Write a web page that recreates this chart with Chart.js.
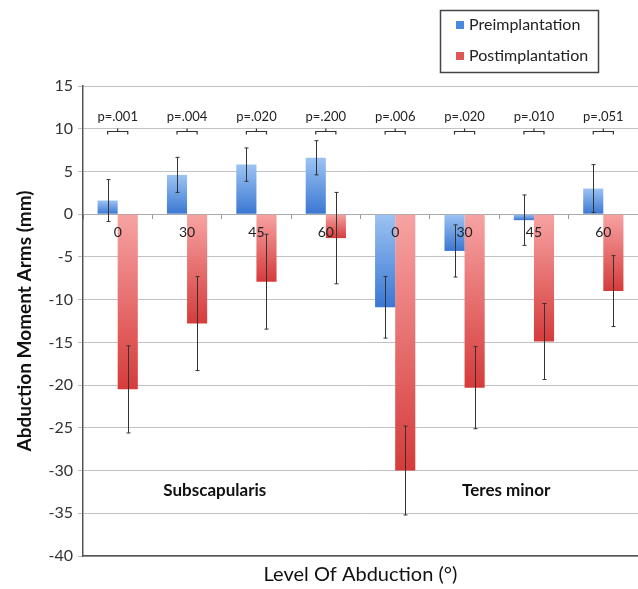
<!DOCTYPE html>
<html>
<head>
<meta charset="utf-8">
<script src="https://cdn.jsdelivr.net/npm/chart.js@4.4.1/dist/chart.umd.min.js"></script>
<style>
  html, body { margin: 0; background: #fff; }
</style>
</head>
<body>
<canvas id="myChart" width="638" height="589"></canvas>
<script>
const categories = ['0', '30', '45', '60', '0', '30', '45', '60'];
const preValues = [1.6, 4.6, 5.8, 6.6, -10.9, -4.3, -0.7, 3.0];
const preErrors = [2.45, 2.05, 1.95, 2.0, 3.6, 3.05, 2.95, 2.8];
const postValues = [-20.5, -12.8, -7.9, -2.8, -30.0, -20.3, -14.9, -9.0];
const postErrors = [5.1, 5.5, 5.55, 5.35, 5.2, 4.8, 4.45, 4.15];
const pValues = ['p=.001', 'p=.004', 'p=.020', 'p=.200', 'p=.006', 'p=.020', 'p=.010', 'p=.051'];
const groupNames = ['Subscapularis', 'Teres minor'];
const groupAt = [1.4, 5.6];
const groupY = -32.3;
const bracketY = 9.7;
const pLabelY = 11.4;
const yMin = -40, yMax = 15, yStep = 5;

const FONT = 'Lato, "Open Sans", sans-serif';

// vertical gradient over each bar, light at the top, dark at the bottom
function barFill(light, dark) {
    return function (c) {
        if (c.type !== 'data') return dark;
        const y = c.chart.scales.y;
        if (!y) return dark;
        const v = c.parsed.y;
        const top = y.getPixelForValue(Math.max(v, 0));
        const bottom = y.getPixelForValue(Math.min(v, 0));
        if (!isFinite(top) || !isFinite(bottom) || bottom - top < 1) return dark;
        const g = c.chart.ctx.createLinearGradient(0, top, 0, bottom);
        g.addColorStop(0, light);
        g.addColorStop(1, dark);
        return g;
    };
}

const extras = {
    id: 'extras',
    afterDatasetsDraw(chart) {
        const ctx = chart.ctx;
        const y = chart.scales.y;
        const x = chart.scales.x;
        const errs = [preErrors, postErrors];
        const vals = [preValues, postValues];
        ctx.save();
        ctx.strokeStyle = '#333';
        ctx.lineWidth = 1;
        // error bars
        for (let d = 0; d < 2; d++) {
            const meta = chart.getDatasetMeta(d);
            meta.data.forEach((bar, j) => {
                const bx = Math.round(bar.x) + 0.5;
                const hi = y.getPixelForValue(vals[d][j] + errs[d][j]);
                const lo = y.getPixelForValue(vals[d][j] - errs[d][j]);
                ctx.beginPath();
                ctx.moveTo(bx, hi); ctx.lineTo(bx, lo);
                ctx.moveTo(bx - 2, hi); ctx.lineTo(bx + 2, hi);
                ctx.moveTo(bx - 2, lo); ctx.lineTo(bx + 2, lo);
                ctx.stroke();
            });
        }
        // p-value brackets
        const m0 = chart.getDatasetMeta(0), m1 = chart.getDatasetMeta(1);
        const yb = Math.round(y.getPixelForValue(bracketY)) + 0.5;
        const yt = y.getPixelForValue(pLabelY);
        ctx.lineWidth = 1.2;
        ctx.font = '13px ' + FONT;
        ctx.fillStyle = '#222';
        ctx.textAlign = 'center';
        ctx.textBaseline = 'middle';
        pValues.forEach((p, j) => {
            const x1 = m0.data[j].x, x2 = m1.data[j].x, xm = (x1 + x2) / 2;
            ctx.beginPath();
            ctx.moveTo(x1, yb + 3); ctx.lineTo(x1, yb); ctx.lineTo(x2, yb); ctx.lineTo(x2, yb + 3);
            ctx.moveTo(xm, yb); ctx.lineTo(xm, yb - 3);
            ctx.stroke();
            ctx.fillText(p, xm, yt);
        });
        // muscle group names
        ctx.font = 'bold 17px ' + FONT;
        ctx.fillStyle = '#111';
        groupNames.forEach((g, i) => {
            ctx.fillText(g, x.getPixelForValue(groupAt[i]), y.getPixelForValue(groupY));
        });
        ctx.restore();
    },
    afterDraw(chart) {
        // boxed legend, top right
        const ctx = chart.ctx;
        const ds = chart.data.datasets;
        ctx.save();
        ctx.strokeStyle = '#444';
        ctx.lineWidth = 1.5;
        ctx.strokeRect(440.5, 10.5, 158, 62);
        ctx.font = '16px ' + FONT;
        ctx.textAlign = 'left';
        ctx.textBaseline = 'middle';
        ds.forEach((d, i) => {
            const cy = 25 + i * 31;
            ctx.fillStyle = d.legendColor;
            ctx.fillRect(456, cy - 4, 8, 8);
            ctx.fillStyle = '#222';
            ctx.fillText(d.label, 469, cy);
        });
        ctx.restore();
    }
};

new Chart(document.getElementById('myChart'), {
    type: 'bar',
    data: {
        labels: categories,
        datasets: [{
            label: 'Preimplantation',
            data: preValues,
            backgroundColor: barFill('#9cc3f3', '#3a77d2'),
            legendColor: '#4a88df',
            barPercentage: 1,
            categoryPercentage: 0.58
        }, {
            label: 'Postimplantation',
            data: postValues,
            backgroundColor: barFill('#f7a3a3', '#d63b3b'),
            legendColor: '#e05656',
            barPercentage: 1,
            categoryPercentage: 0.58
        }]
    },
    options: {
        responsive: false,
        animation: false,
        layout: { padding: { top: 86, right: 0, left: 0, bottom: 0 } },
        plugins: {
            legend: { display: false },
            tooltip: { enabled: false }
        },
        scales: {
            x: {
                axis: 'x',
                position: { y: 0 },
                grid: { display: true, drawOnChartArea: false, drawTicks: true, tickLength: 4, color: '#999' },
                border: { display: true, color: '#aaa', width: 1 },
                ticks: { z: 1, color: '#222', font: { family: FONT, size: 14 }, padding: 6, maxRotation: 0 }
            },
            x2: {
                type: 'category',
                axis: 'x',
                position: 'bottom',
                labels: categories,
                offset: true,
                grid: { display: false },
                border: { display: true, color: '#555', width: 1.5 },
                ticks: { display: false },
                title: {
                    display: true,
                    text: 'Level Of Abduction (°)',
                    color: '#111',
                    font: { family: FONT, size: 20 },
                    padding: { top: 0, bottom: 2 }
                },
                afterFit(s) { s.height = 33; }
            },
            y: {
                min: yMin,
                max: yMax,
                ticks: { stepSize: yStep, color: '#333', font: { family: FONT, size: 16 }, padding: 5 },
                grid: { color: '#c2c2c2', tickLength: 5, lineWidth: 1 },
                border: { display: true, color: '#555', width: 1.5 },
                title: {
                    display: true,
                    text: 'Abduction Moment Arms (mm)',
                    color: '#111',
                    font: { family: FONT, size: 19, weight: 'bold' },
                    padding: { top: 13, bottom: 0 }
                },
                afterFit(s) { s.width = 83; }
            }
        }
    },
    plugins: [extras]
});
</script>
</body>
</html>
